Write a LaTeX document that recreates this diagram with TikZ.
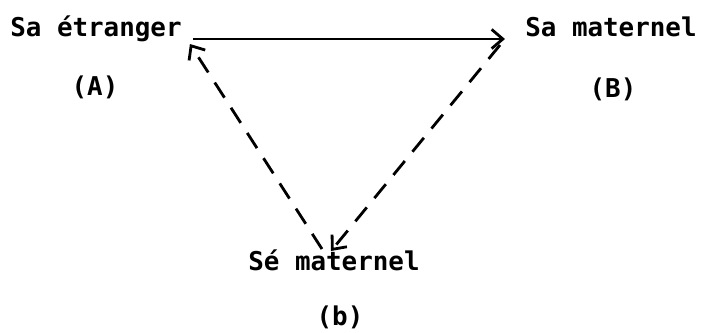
\documentclass[tikz,border=0pt]{standalone}
\usepackage{fontspec}
\setmonofont{DejaVu Sans Mono}
\usepackage{tikz}
\usetikzlibrary{arrows.meta,calc}

\begin{document}
\begin{tikzpicture}[
      x=0.025cm, y=-0.025cm,
      term/.style={inner sep=0pt, anchor=base west, font=\ttfamily\bfseries\fontsize{18.4}{20}\selectfont},
      tag/.style={inner sep=0pt, anchor=base, font=\ttfamily\bfseries\fontsize{18.4}{20}\selectfont},
      arr/.style={-{Straight Barb[length=2.8mm, width=4.8mm]}, line width=2pt},
      darr/.style={arr, dash pattern=on 0.45cm off 0.3cm}
    ]
    \useasboundingbox (0,0) rectangle (702,332);
    \node[term] (sa) at (10,36) {Sa étranger};
    \node[term] (sb) at (525,36) {Sa maternel};
    \node[term] (sc) at (248,270) {Sé maternel};
    \node[tag] (la) at (95,95) {(A)};
    \node[tag] (lb) at (613,97) {(B)};
    \node[tag] (lc) at (340,325) {(b)};
    \draw[arr] ($(sa.base east)+(11,3)$) -- ($(sb.base west)+(-20,3)$);
    \draw[darr] ($(sb.base west)+(-25,9)$) -- ($(sc.base west)+(83,-19)$);
    \draw[darr] ($(sc.base west)+(74,-21)$) -- ($(sa.base east)+(8,8)$);
  \end{tikzpicture}
\end{document}
